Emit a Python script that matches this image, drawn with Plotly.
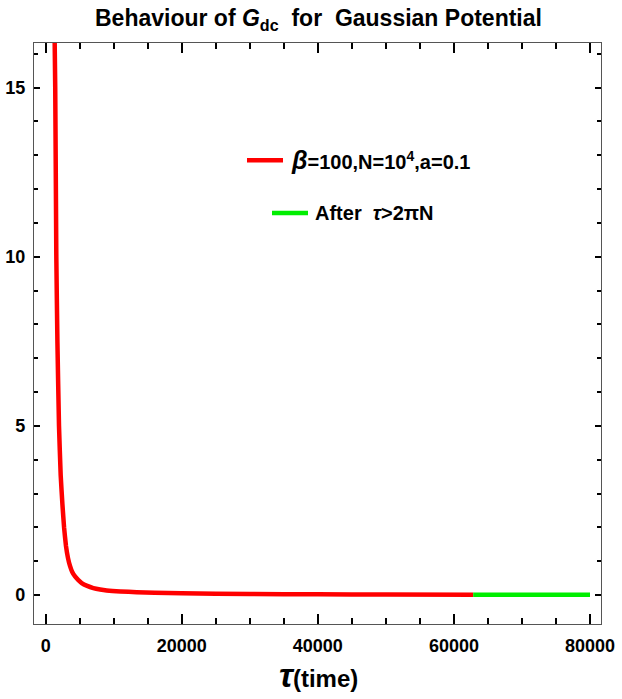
import plotly.graph_objects as go

# Data
tau_red = [1250, 1400, 1560, 1720, 1955, 2200, 2450, 2700, 2980, 3270, 3570, 3900, 4310,
           4800, 5290, 6100, 7000, 8000, 8960, 11000, 13370, 16000, 20000, 30000, 40000, 50000,
           62832]
g_red = [17.5, 15.0, 10.0, 7.5, 5.0, 3.55, 2.7, 2.0, 1.45, 1.1, 0.86, 0.68, 0.55,
         0.44, 0.354, 0.27, 0.207, 0.165, 0.136, 0.105, 0.085, 0.068, 0.05, 0.03, 0.02, 0.015,
         0.011]
tau_green = [62832, 70000, 80000]
g_green = [0.011, 0.009, 0.007]

x_ticks = [0, 20000, 40000, 60000, 80000]
x_labels = ["0", "20000", "40000", "60000", "80000"]
y_ticks = [0, 5, 10, 15]
y_labels = ["0", "5", "10", "15"]

FONT = "Liberation Sans"
L, R, T, B = 34, 601, 42.7, 624.3
PW, PH = R - L, B - T


def px(x):
    return (x - L) / PW


def py(y):
    return (B - y) / PH


fig = go.Figure()
fig.add_trace(go.Scatter(x=tau_red, y=g_red, mode="lines",
                         line=dict(color="#ff0000", width=4.5, shape="spline", smoothing=0.3),
                         showlegend=False))
fig.add_trace(go.Scatter(x=tau_green, y=g_green, mode="lines",
                         line=dict(color="#00ee00", width=4.5), showlegend=False))

axis_common = dict(showline=True, linecolor="#555555", linewidth=1.2, mirror="allticks",
                   ticks="inside", tickcolor="black", tickwidth=1.6,
                   showgrid=False, zeroline=False, automargin=False,
                   tickfont=dict(family=FONT, size=18, color="black", weight="bold"))

fig.update_xaxes(range=[-1720, 81617], tickvals=x_ticks, ticktext=x_labels, ticklen=10,
                 minor=dict(dtick=5000, ticklen=6, ticks="inside", tickcolor="black",
                            tickwidth=1.6, showgrid=False),
                 ticklabelstandoff=5, **axis_common)
fig.update_yaxes(range=[-0.856, 16.32], tickvals=y_ticks, ticktext=y_labels, ticklen=6,
                 minor=dict(dtick=1, ticklen=4, ticks="inside", tickcolor="black",
                            tickwidth=1.6, showgrid=False),
                 ticklabelstandoff=4, **axis_common)

# Legend drawn as sample lines + labels
fig.add_shape(type="line", xref="paper", yref="paper",
              x0=px(247), x1=px(283), y0=py(160), y1=py(160),
              line=dict(color="#ff0000", width=4.5))
fig.add_shape(type="line", xref="paper", yref="paper",
              x0=px(272), x1=px(308), y0=py(213), y1=py(213),
              line=dict(color="#00ee00", width=4.5))
fig.add_annotation(xref="paper", yref="paper", x=px(289), y=py(160),
                   xanchor="left", yanchor="middle", showarrow=False,
                   text="<b><i><span style='font-size:25px'>β</span></i>=100,N=10<sup>4</sup>,a=0.1</b>",
                   font=dict(family=FONT, size=20, color="black"))
fig.add_annotation(xref="paper", yref="paper", x=px(313), y=py(213),
                   xanchor="left", yanchor="middle", showarrow=False,
                   text="<b>After  <i>τ</i>>2πN</b>",
                   font=dict(family=FONT, size=20, color="black"))

# Title
fig.add_annotation(xref="paper", yref="paper", x=px(318), y=py(19),
                   xanchor="center", yanchor="middle", showarrow=False,
                   text="<b>Behaviour of <i>G</i><sub>dc</sub>  for  Gaussian Potential</b>",
                   font=dict(family=FONT, size=23, color="black"))
# X axis title
fig.add_annotation(xref="paper", yref="paper", x=px(318), y=py(696),
                   xanchor="center", yanchor="bottom", showarrow=False,
                   text="<b><i><span style='font-size:34px'>τ</span></i>(time)</b>",
                   font=dict(family=FONT, size=24, color="black"))

fig.update_layout(width=622, height=699,
                  margin=dict(l=L, r=622 - R, t=T, b=699 - B, autoexpand=False),
                  paper_bgcolor="white", plot_bgcolor="white",
                  showlegend=False)

fig.write_html("out.html", config={"displayModeBar": False},
               post_script="document.body.style.margin='0px';"
                           "document.body.style.overflow='hidden';")
